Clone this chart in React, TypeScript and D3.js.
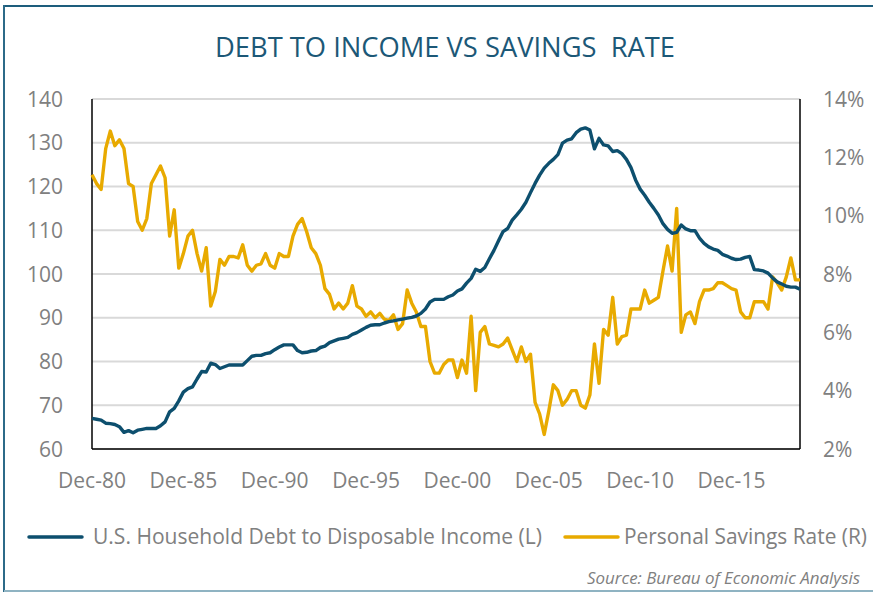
import React from "react";
import * as d3 from "d3";

const debtToIncome: number[] = [
  67.0, 66.8, 66.6, 65.9, 65.8, 65.6, 65.1, 63.8, 64.2, 63.7,
  64.3, 64.5, 64.7, 64.7, 64.7, 65.3, 66.2, 68.5, 69.3, 71.0,
  73.0, 73.8, 74.2, 76.0, 77.7, 77.6, 79.6, 79.3, 78.4, 78.8,
  79.2, 79.2, 79.2, 79.2, 80.2, 81.2, 81.4, 81.4, 81.8, 82.0,
  82.7, 83.3, 83.8, 83.8, 83.8, 82.5, 82.0, 82.1, 82.4, 82.5,
  83.2, 83.5, 84.3, 84.7, 85.1, 85.3, 85.5, 86.2, 86.6, 87.2,
  87.8, 88.3, 88.4, 88.4, 88.8, 89.1, 89.3, 89.5, 89.7, 89.9,
  90.1, 90.4, 91.0, 92.0, 93.6, 94.2, 94.2, 94.2, 94.8, 95.2,
  96.1, 96.6, 97.9, 99.0, 101.1, 100.6, 101.5, 103.5, 105.4, 107.6,
  109.7, 110.4, 112.3, 113.5, 114.8, 116.4, 118.6, 120.7, 122.6, 124.2,
  125.3, 126.2, 127.3, 129.9, 130.6, 130.9, 132.3, 133.1, 133.4, 132.9,
  128.6, 131.0, 129.5, 129.3, 128.0, 128.2, 127.5, 126.2, 124.3, 121.5,
  119.4, 118.0, 116.4, 115.0, 113.5, 111.5, 110.2, 109.3, 109.5, 111.2,
  110.3, 109.9, 109.9, 108.2, 107.0, 106.2, 105.7, 105.4, 104.5, 104.1,
  103.6, 103.3, 103.4, 103.8, 104.0, 101.0, 100.9, 100.7, 100.2, 99.1,
  98.2, 97.7, 97.2, 97.0, 97.0, 96.5,
];

const savingsRate: number[] = [
  11.4, 11.1, 10.9, 12.3, 12.9, 12.4, 12.6, 12.3, 11.1, 11.0,
  9.8, 9.5, 9.9, 11.1, 11.4, 11.7, 11.3, 9.3, 10.2, 8.2,
  8.7, 9.3, 9.5, 8.7, 8.1, 8.9, 6.9, 7.4, 8.5, 8.3,
  8.6, 8.6, 8.55, 9.0, 8.3, 8.1, 8.3, 8.35, 8.7, 8.3,
  8.2, 8.7, 8.6, 8.6, 9.3, 9.7, 9.9, 9.45, 8.9, 8.7,
  8.3, 7.5, 7.3, 6.8, 7.0, 6.8, 7.0, 7.6, 6.9, 6.8,
  6.55, 6.7, 6.5, 6.65, 6.45, 6.4, 6.6, 6.1, 6.3, 7.45,
  7.0, 6.7, 6.2, 6.2, 5.0, 4.6, 4.6, 4.9, 5.05, 5.05,
  4.45, 5.05, 4.6, 6.55, 4.0, 6.0, 6.2, 5.6, 5.55, 5.5,
  5.6, 5.8, 5.4, 5.0, 5.5, 5.0, 5.25, 3.6, 3.2, 2.5,
  3.3, 4.2, 4.0, 3.5, 3.7, 4.0, 4.0, 3.5, 3.4, 3.85,
  5.6, 4.25, 6.1, 5.9, 7.2, 5.6, 5.85, 5.9, 6.8, 6.8,
  6.8, 7.45, 7.0, 7.1, 7.2, 8.1, 8.96, 8.1, 10.25, 6.0,
  6.6, 6.7, 6.3, 7.05, 7.45, 7.45, 7.5, 7.7, 7.7, 7.6,
  7.5, 7.45, 6.7, 6.5, 6.5, 7.05, 7.05, 7.05, 6.8, 7.9,
  7.7, 7.45, 7.9, 8.55, 7.8, 7.8,
];

// Quarterly categories, starting Dec-80
const fmt = d3.timeFormat("%b-%y");
const quarters: string[] = debtToIncome.map((_, i) =>
  fmt(d3.timeMonth.offset(new Date(1980, 11, 1), i * 3))
);
const xTickLabels: string[] = ["Dec-80", "Dec-85", "Dec-90", "Dec-95", "Dec-00", "Dec-05", "Dec-10", "Dec-15"];
const leftTicks: number[] = [60, 70, 80, 90, 100, 110, 120, 130, 140];
const rightTicks: number[] = [2, 4, 6, 8, 10, 12, 14];

const titleText = "DEBT TO INCOME VS SAVINGS  RATE";
const seriesNames = ["U.S. Household Debt to Disposable Income (L)", "Personal Savings Rate (R)"];
const sourceText = "Source: Bureau of Economic Analysis";

const BLUE = "#0d4f6e";
const ORANGE = "#e8aa00";
const GRAY = "#808080";
const FONT = "'Open Sans', sans-serif";

export default function App() {
  const W = 873, H = 593;
  const left = 92, right = 800, top = 99, bottom = 449;

  const x = d3.scalePoint<string>().domain(quarters).range([left, right]);
  const yL = d3.scaleLinear().domain([60, 140]).range([bottom, top]);
  const yR = d3.scaleLinear().domain([2, 14]).range([bottom, top]);

  const debtLine = d3.line<number>()
    .x((_, i) => x(quarters[i]) as number)
    .y((d) => yL(d))
    .curve(d3.curveLinear);
  const saveLine = d3.line<number>()
    .x((_, i) => x(quarters[i]) as number)
    .y((d) => yR(d))
    .curve(d3.curveLinear);

  return (
    <svg width={W} height={H} style={{ position: "absolute", left: 0, top: 0, background: "#fff" }}>
      <rect x={0} y={0} width={W} height={H} fill="#fff" />
      {/* frame */}
      <line x1={4} y1={6} x2={W} y2={6} stroke="#1d5d7c" strokeWidth={2} />
      <line x1={4} y1={5} x2={4} y2={592} stroke="#2c6a88" strokeWidth={2} />
      <line x1={4} y1={591} x2={W} y2={591} stroke="#8fb3c2" strokeWidth={2} />

      {/* title */}
      <text x={215} y={57} fontFamily={FONT} fontSize={27} fill="#1c5877"
        style={{ whiteSpace: "pre" }}
        textLength={460} lengthAdjust="spacingAndGlyphs">{titleText}</text>

      {/* gridlines */}
      {leftTicks.map((t) => (
        <line key={"g" + t} x1={left} x2={right} y1={yL(t)} y2={yL(t)} stroke="#d9d9d9" strokeWidth={1.8} />
      ))}

      {/* axes box */}
      <line x1={left} x2={left} y1={top} y2={bottom} stroke="#000" strokeWidth={1.5} />
      <line x1={right} x2={right} y1={top} y2={bottom} stroke="#000" strokeWidth={1.5} />
      <line x1={left} x2={right} y1={bottom} y2={bottom} stroke="#000" strokeWidth={1.5} />

      {/* left ticks */}
      {leftTicks.map((t) => (
        <text key={"l" + t} x={63} y={yL(t) + 7.5} textAnchor="end" fontFamily={FONT} fontSize={21} fill={GRAY}>{t}</text>
      ))}
      {/* right ticks */}
      {rightTicks.map((t) => (
        <text key={"r" + t} x={823} y={yR(t) + 7.5} textAnchor="start" fontFamily={FONT} fontSize={21} fill={GRAY}>{t + "%"}</text>
      ))}
      {/* x ticks */}
      {xTickLabels.map((t) => (
        <text key={"x" + t} x={x(t) as number} y={488} textAnchor="middle" fontFamily={FONT} fontSize={21} fill={GRAY}>{t}</text>
      ))}

      {/* series */}
      <path d={saveLine(savingsRate) || ""} fill="none" stroke={ORANGE} strokeWidth={3.4} strokeLinejoin="round" />
      <path d={debtLine(debtToIncome) || ""} fill="none" stroke={BLUE} strokeWidth={3.4} strokeLinejoin="round" />

      {/* legend */}
      <line x1={29} x2={82} y1={537} y2={537} stroke={BLUE} strokeWidth={3.5} strokeLinecap="round" />
      <text x={93} y={544} fontFamily={FONT} fontSize={21} fill={GRAY} textLength={449} lengthAdjust="spacingAndGlyphs">{seriesNames[0]}</text>
      <line x1={565} x2={618} y1={537} y2={537} stroke={ORANGE} strokeWidth={3.5} strokeLinecap="round" />
      <text x={624} y={544} fontFamily={FONT} fontSize={21} fill={GRAY} textLength={243} lengthAdjust="spacingAndGlyphs">{seriesNames[1]}</text>

      {/* source */}
      <text x={587} y={584} fontFamily={FONT} fontStyle="italic" fontSize={15.5} fill={GRAY}
        textLength={273} lengthAdjust="spacingAndGlyphs">{sourceText}</text>
    </svg>
  );
}
